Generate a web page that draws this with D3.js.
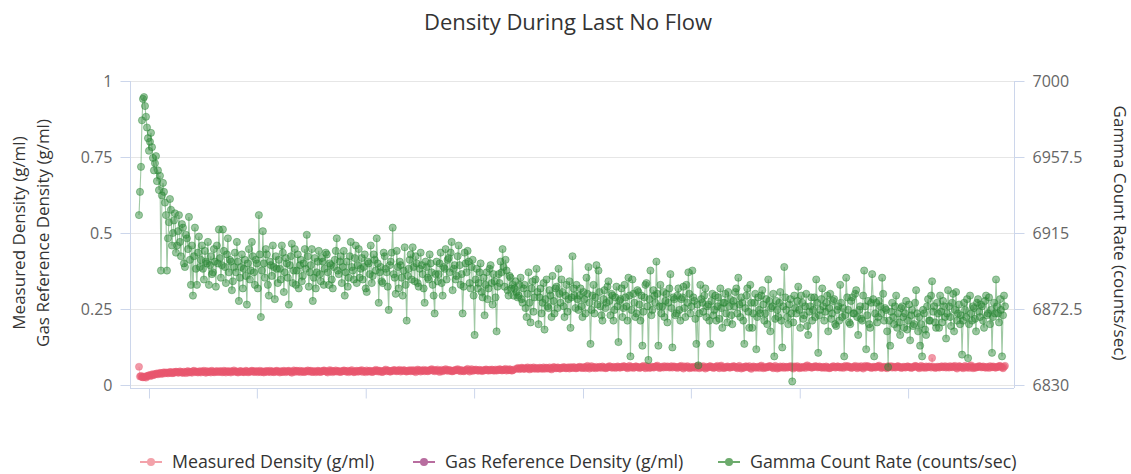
<!DOCTYPE html>
<html>
<head>
<meta charset="utf-8">
<script src="https://cdn.jsdelivr.net/npm/d3@7/dist/d3.min.js"></script>
<style>
  body { margin: 0; background: #fff; }
  svg text { font-family: "Open Sans", "Noto Sans", sans-serif; }
</style>
</head>
<body>
<svg id="chart" width="1131" height="474"></svg>
<script>
/*******************
 * DATA
 *******************/

// gamma count rate (counts/sec), one reading per sample
var gammaRate = [
  6925,6938,6952,6978,6990,6991,6986,6980,6974,6968,6961,6966,6971,6963,6957,6950,6954,6958,6944,6950,
  6939,6947,6894,6936,6943,6938,6932,6925,6894,6912,6921,6934,6928,6908,6915,6922,6926,6904,6908,6916,
  6925,6910,6902,6920,6918,6898,6896,6914,6912,6906,6924,6900,6886,6908,6880,6902,6918,6895,6886,6904,
  6913,6896,6900,6908,6895,6889,6905,6899,6898,6910,6886,6897,6902,6892,6893,6906,6899,6885,6908,6898,
  6917,6901,6890,6897,6917,6905,6896,6887,6903,6912,6893,6900,6899,6883,6888,6896,6904,6893,6910,6899,
  6877,6890,6896,6903,6884,6895,6900,6891,6875,6898,6906,6889,6894,6910,6902,6893,6886,6900,6898,6884,
  6925,6903,6868,6894,6916,6898,6890,6906,6903,6886,6880,6899,6897,6891,6908,6896,6878,6902,6895,6887,
  6900,6895,6889,6908,6904,6882,6893,6901,6898,6890,6875,6897,6902,6909,6887,6894,6906,6886,6894,6903,
  6884,6897,6900,6888,6891,6898,6906,6895,6914,6902,6885,6893,6897,6906,6877,6890,6901,6884,6893,6899,
  6905,6892,6888,6901,6899,6886,6895,6904,6903,6893,6886,6898,6897,6889,6884,6896,6900,6905,6912,6894,
  6892,6899,6902,6887,6896,6905,6880,6893,6899,6885,6890,6902,6910,6896,6894,6889,6901,6908,6887,6897,
  6906,6890,6895,6901,6889,6896,6903,6884,6882,6899,6898,6892,6908,6887,6891,6903,6900,6894,6912,6898,
  6876,6893,6896,6888,6887,6904,6902,6895,6893,6885,6872,6897,6899,6904,6918,6892,6890,6881,6905,6896,
  6884,6899,6897,6890,6880,6894,6907,6886,6866,6891,6895,6900,6903,6889,6907,6896,6888,6902,6898,6887,
  6885,6895,6904,6897,6892,6884,6876,6899,6896,6890,6889,6903,6898,6893,6886,6880,6870,6892,6899,6888,
  6892,6898,6904,6887,6880,6896,6895,6906,6889,6900,6901,6893,6904,6910,6883,6895,6897,6889,6891,6902,
  6908,6897,6886,6892,6870,6885,6904,6898,6893,6905,6899,6887,6884,6896,6900,6880,6858,6889,6895,6884,
  6887,6893,6898,6882,6879,6890,6869,6886,6893,6878,6884,6895,6897,6887,6875,6892,6888,6879,6860,6885,
  6892,6887,6899,6893,6906,6896,6885,6900,6894,6883,6880,6891,6890,6884,6886,6880,6884,6888,6882,6879,
  6880,6886,6890,6878,6876,6884,6886,6873,6868,6881,6893,6876,6865,6884,6888,6871,6879,6889,6895,6882,
  6864,6879,6884,6870,6876,6887,6861,6878,6889,6874,6873,6883,6880,6868,6891,6877,6870,6884,6885,6873,
  6895,6881,6876,6889,6882,6874,6868,6880,6886,6871,6878,6888,6862,6879,6902,6884,6880,6873,6886,6878,
  6872,6880,6884,6874,6868,6882,6878,6870,6890,6881,6896,6876,6853,6872,6880,6886,6870,6879,6897,6875,
  6894,6882,6874,6869,6866,6878,6883,6873,6876,6885,6888,6877,6869,6881,6880,6866,6872,6879,6885,6874,
  6854,6877,6878,6884,6868,6873,6886,6879,6874,6866,6890,6880,6846,6872,6889,6881,6876,6868,6870,6883,
  6882,6875,6866,6880,6852,6871,6879,6886,6887,6874,6844,6878,6894,6869,6872,6883,6880,6876,6899,6881,
  6852,6874,6886,6870,6874,6882,6868,6877,6881,6865,6876,6884,6892,6873,6851,6879,6878,6869,6870,6880,
  6884,6872,6866,6878,6879,6885,6873,6868,6886,6876,6893,6881,6870,6874,6894,6879,6877,6867,6853,6875,
  6841,6870,6886,6878,6876,6871,6880,6884,6868,6874,6875,6866,6853,6877,6881,6869,6872,6880,6866,6874,
  6879,6867,6884,6873,6862,6876,6876,6881,6870,6865,6882,6874,6878,6869,6864,6877,6874,6882,6884,6870,
  6890,6875,6868,6879,6876,6866,6853,6873,6880,6884,6871,6862,6886,6876,6862,6870,6876,6881,6850,6868,
  6879,6872,6870,6880,6883,6875,6866,6870,6878,6864,6889,6877,6860,6873,6874,6881,6846,6867,6877,6872,
  6868,6876,6882,6866,6851,6874,6896,6879,6872,6868,6864,6875,6878,6870,6832,6865,6880,6873,6870,6877,
  6885,6872,6862,6880,6876,6867,6869,6874,6881,6863,6858,6871,6874,6879,6866,6872,6879,6868,6889,6876,
  6848,6869,6872,6878,6884,6874,6866,6871,6876,6880,6860,6873,6881,6867,6870,6877,6878,6864,6863,6872,
  6874,6866,6886,6876,6868,6873,6846,6869,6890,6879,6872,6865,6864,6877,6879,6870,6870,6881,6883,6868,
  6858,6872,6874,6867,6866,6880,6894,6874,6850,6869,6877,6864,6862,6876,6892,6878,6846,6870,6876,6865,
  6868,6877,6874,6870,6890,6881,6866,6873,6872,6860,6840,6866,6852,6871,6876,6868,6864,6874,6880,6862,
  6870,6865,6858,6873,6874,6868,6862,6870,6877,6861,6866,6875,6855,6869,6872,6863,6864,6876,6883,6870,
  6860,6868,6852,6864,6846,6872,6870,6861,6858,6874,6878,6866,6866,6880,6888,6871,6874,6865,6862,6876,
  6870,6862,6880,6871,6865,6877,6874,6868,6856,6870,6883,6874,6868,6863,6876,6881,6860,6872,6882,6866,
  6870,6875,6864,6869,6847,6866,6876,6872,6868,6878,6845,6864,6880,6870,6866,6874,6873,6867,6860,6876,
  6878,6871,6868,6875,6874,6866,6862,6877,6880,6869,6870,6879,6864,6872,6848,6868,6876,6870,6889,6874,
  6870,6865,6878,6872,6846,6869,6880,6874
];

// measured density (g/ml), same samples; null = missing reading
var measuredDensity = [
  .060,.028,.030,.026,.025,.028,.027,.024,.029,.031,.032,.029,.034,.031,.036,.033,.035,.037,.038,.035,.037,.040,.039,.036,.040,.042,.038,.041,.041,.038,.040,.043,.042,.039,.039,.043,.041,.044,.043,.040,
  .041,.045,.043,.040,.040,.044,.042,.039,.044,.046,.041,.043,.043,.040,.045,.047,.042,.044,.044,.041,.043,.046,.041,.044,.044,.047,.042,.040,.046,.043,.043,.045,.041,.047,.044,.042,.042,.045,.046,.043,
  .043,.046,.045,.042,.042,.047,.044,.041,.046,.044,.043,.046,.041,.044,.045,.048,.043,.045,.044,.041,.042,.046,.046,.043,.044,.042,.043,.047,.045,.042,.042,.045,.044,.047,.046,.043,.043,.046,.045,.042,
  .044,.047,.042,.044,.045,.041,.043,.046,.046,.043,.044,.047,.042,.045,.045,.042,.043,.046,.047,.044,.044,.041,.046,.043,.043,.047,.045,.042,.044,.046,.047,.044,.043,.040,.045,.048,.043,.046,.047,.044,
  .044,.047,.042,.045,.046,.043,.043,.046,.045,.048,.044,.046,.047,.043,.043,.046,.045,.042,.044,.047,.046,.043,.043,.046,.045,.048,.047,.044,.044,.041,.046,.049,.044,.047,.042,.045,.045,.048,.044,.046,
  .046,.043,.043,.046,.045,.048,.047,.044,.044,.047,.042,.045,.046,.049,.045,.042,.043,.046,.047,.044,.044,.047,.046,.049,.043,.046,.045,.042,.048,.045,.044,.047,.046,.043,.043,.046,.047,.050,.045,.048,
  .044,.047,.046,.043,.043,.046,.048,.051,.045,.048,.047,.044,.044,.047,.046,.049,.049,.046,.045,.048,.047,.050,.044,.047,.046,.049,.048,.045,.044,.047,.046,.049,.045,.048,.046,.049,.045,.042,.048,.051,
  .046,.049,.044,.047,.047,.050,.045,.048,.048,.045,.046,.049,.049,.052,.047,.050,.045,.048,.048,.051,.046,.043,.047,.050,.045,.048,.049,.052,.047,.050,.046,.049,.048,.045,.045,.048,.047,.050,.049,.052,
  .047,.050,.045,.048,.048,.045,.046,.049,.050,.053,.047,.044,.049,.052,.046,.049,.048,.051,.050,.047,.047,.050,.049,.046,.046,.049,.048,.051,.051,.048,.047,.050,.048,.051,.050,.047,.048,.051,.047,.050,
  .049,.052,.051,.048,.048,.051,.050,.053,.047,.050,.049,.052,.050,.047,.048,.051,null,null,.053,.056,.055,.052,.054,.057,.056,.053,.053,.056,.055,.058,.054,.051,.057,.054,.055,.058,.053,.056,.056,.053,
  .054,.057,.056,.053,.055,.058,.053,.056,.057,.054,.055,.058,.054,.051,.056,.059,.058,.055,.055,.058,.057,.054,.054,.057,.056,.059,.058,.055,.055,.058,.057,.054,.059,.056,.056,.059,.058,.055,.055,.058,
  .057,.060,.059,.056,.056,.059,.058,.055,.060,.063,.057,.054,.059,.062,.056,.059,.058,.055,.060,.057,.057,.060,.059,.056,.061,.058,.058,.055,.056,.059,.059,.062,.060,.057,.057,.060,.059,.056,.058,.061,
  .060,.057,.057,.060,.059,.062,.061,.058,.058,.055,.060,.063,.057,.060,.059,.056,.058,.061,.061,.058,.059,.056,.057,.060,.060,.063,.058,.055,.062,.059,.059,.056,.057,.060,.060,.057,.058,.061,.061,.064,
  .059,.056,.057,.060,.060,.057,.062,.059,.058,.061,.060,.057,.059,.062,.057,.060,.061,.058,.059,.056,.058,.061,.060,.063,.057,.054,.061,.058,.059,.062,.058,.055,.060,.057,.057,.060,.059,.056,.060,.063,
  .058,.055,.061,.058,.059,.062,.057,.054,.060,.057,.058,.061,.062,.059,.059,.056,.057,.060,.060,.063,.058,.055,.061,.064,.059,.056,.056,.059,.058,.061,.060,.057,.057,.060,.059,.062,.061,.058,.058,.055,
  .060,.063,.057,.054,.059,.056,.058,.061,.061,.058,.059,.062,.056,.053,.058,.061,.060,.057,.057,.060,.059,.056,.061,.064,.058,.055,.060,.057,.057,.060,.059,.062,.062,.059,.058,.055,.060,.063,.057,.054,
  .059,.056,.061,.058,.058,.061,.056,.059,.060,.057,.058,.061,.059,.062,.057,.054,.061,.058,.059,.062,.058,.055,.060,.057,.057,.060,.059,.056,.062,.065,.058,.061,.060,.057,.057,.060,.059,.062,.061,.058,
  .058,.061,.060,.057,.057,.060,.059,.056,.061,.058,.058,.055,.056,.059,.059,.062,.060,.057,.058,.061,.061,.058,.057,.060,.059,.056,.060,.063,.058,.061,.062,.059,.059,.056,.057,.060,.060,.063,.058,.055,
  .061,.058,.059,.062,.057,.054,.060,.063,.058,.061,.062,.059,.059,.056,.057,.060,.060,.057,.058,.061,.061,.064,.059,.056,.057,.060,.060,.057,.058,.055,.062,.059,.059,.062,.057,.060,.060,.057,.058,.061,
  .062,.059,.059,.056,.057,.060,.060,.057,.058,.061,.061,.058,.059,.056,.057,.060,.060,.063,.062,.059,.058,.055,.060,.063,.057,.060,.059,.056,.061,.058,.058,.061,.060,.057,.089,.060,.059,.056,.057,.060,
  .060,.057,.058,.061,.061,.058,.059,.062,.057,.060,.060,.057,.062,.059,.058,.061,.060,.063,.057,.054,.059,.062,.061,.058,.058,.055,.060,.063,.057,.060,.059,.056,.062,.065,.058,.055,.060,.057,.057,.060,
  .059,.062,.061,.058,.058,.061,.060,.057,.057,.060,.059,.056,.062,.059,.058,.061,.060,.057,.057,.060,.059,.062,.063,.060,.058,.055,.060,.063
];

// gas reference density (g/ml): no readings in this window
var gasRefDensity = [];

var leftTicks = [0, 0.25, 0.5, 0.75, 1];
var rightTicks = [6830, 6872.5, 6915, 6957.5, 7000];
// sample index of each x-axis tick (labels are hidden in the source)
var xTickIdx = [10, 118, 227, 335.5, 444.5, 552.5, 661.5, 770];

var seriesNames = ['Measured Density (g/ml)', 'Gas Reference Density (g/ml)', 'Gamma Count Rate (counts/sec)'];

/*******************
 * LAYOUT
 *******************/

var PLOT = { left: 130, right: 1014, top: 81, bottom: 385 };
var COLOR = {
  measured: '#e8566e',
  gas: '#b0609a',
  gamma: '#2c8836',
  axis: '#ccd6eb',
  grid: '#e6e6e6'
};

var svg = d3.select('#chart');

var x = d3.scaleLinear()
  .domain([-9, gammaRate.length + 8])
  .range([PLOT.left, PLOT.right]);
var yLeft = d3.scaleLinear().domain([0, 1]).range([PLOT.bottom, PLOT.top]);
var yRight = d3.scaleLinear().domain([6830, 7000]).range([PLOT.bottom, PLOT.top]);

// title
svg.append('text')
  .attr('x', 568).attr('y', 30)
  .attr('text-anchor', 'middle')
  .attr('fill', '#333')
  .style('font-size', '22px')
  .text('Density During Last No Flow');

// grid
svg.append('g')
  .selectAll('line')
  .data(leftTicks)
  .join('line')
  .attr('x1', PLOT.left).attr('x2', PLOT.right)
  .attr('y1', d => Math.round(yLeft(d)) + 0.5)
  .attr('y2', d => Math.round(yLeft(d)) + 0.5)
  .attr('stroke', COLOR.grid);

// left axis
var gLeft = svg.append('g')
  .attr('transform', 'translate(' + (PLOT.left + 0.5) + ',0)')
  .call(d3.axisLeft(yLeft).tickValues(leftTicks).tickSize(10).tickPadding(8).tickFormat(d3.format('')));
gLeft.select('.domain').attr('stroke', COLOR.axis).attr('d', 'M0,' + PLOT.top + 'V' + (PLOT.bottom + 3));
gLeft.selectAll('.tick line').attr('stroke', COLOR.axis);
gLeft.selectAll('.tick text').attr('fill', '#666').style('font-size', '16px');

// right axis
var gRight = svg.append('g')
  .attr('transform', 'translate(' + (PLOT.right + 0.5) + ',0)')
  .call(d3.axisRight(yRight).tickValues(rightTicks).tickSize(10).tickPadding(8).tickFormat(d3.format('')));
gRight.select('.domain').attr('stroke', COLOR.axis).attr('d', 'M0,' + PLOT.top + 'V' + (PLOT.bottom + 3));
gRight.selectAll('.tick line').attr('stroke', COLOR.axis);
gRight.selectAll('.tick text').attr('fill', '#666').style('font-size', '16px');

// bottom axis (no labels)
var gBottom = svg.append('g')
  .attr('transform', 'translate(0,' + (PLOT.bottom + 3.5) + ')')
  .call(d3.axisBottom(x).tickValues(xTickIdx).tickSize(10).tickFormat(''));
gBottom.select('.domain').attr('stroke', COLOR.axis).attr('d', 'M' + PLOT.left + ',0H' + PLOT.right);
gBottom.selectAll('.tick line').attr('stroke', COLOR.axis);

// axis titles
var leftTitle = svg.append('text')
  .attr('transform', 'translate(30,' + ((PLOT.top + PLOT.bottom) / 2) + ') rotate(-90)')
  .attr('text-anchor', 'middle')
  .attr('fill', '#333')
  .style('font-size', '17px');
leftTitle.append('tspan').attr('x', 0).attr('dy', '-0.3em').text(seriesNames[0]);
leftTitle.append('tspan').attr('x', 0).attr('dy', '1.4em').text(seriesNames[1]);

svg.append('text')
  .attr('transform', 'translate(1114,' + ((PLOT.top + PLOT.bottom) / 2) + ') rotate(90)')
  .attr('text-anchor', 'middle')
  .attr('fill', '#333')
  .style('font-size', '17px')
  .text(seriesNames[2]);

/*******************
 * SERIES
 *******************/

var plot = svg.append('g');

function drawSeries (values, yScale, color, opts) {
  var pts = values.map(function (v, i) { return { i: i, v: v }; });
  var line = d3.line()
    .defined(d => d.v != null)
    .x(d => x(d.i))
    .y(d => yScale(d.v));
  plot.append('path')
    .datum(pts)
    .attr('d', line)
    .attr('fill', 'none')
    .attr('stroke', color)
    .attr('stroke-opacity', opts.lineOpacity)
    .attr('stroke-width', opts.lineWidth);
  plot.append('g')
    .selectAll('circle')
    .data(pts.filter(d => d.v != null))
    .join('circle')
    .attr('cx', d => x(d.i))
    .attr('cy', d => yScale(d.v))
    .attr('r', opts.r)
    .attr('fill', color)
    .attr('fill-opacity', opts.fillOpacity)
    .attr('stroke', color)
    .attr('stroke-opacity', opts.strokeOpacity)
    .attr('stroke-width', 0.8);
}

drawSeries(measuredDensity, yLeft, COLOR.measured, { r: 3.6, fillOpacity: 0.6, strokeOpacity: 0.4, lineOpacity: 0.3, lineWidth: 1 });
drawSeries(gasRefDensity, yLeft, COLOR.gas, { r: 3.6, fillOpacity: 0.6, strokeOpacity: 0.4, lineOpacity: 0.3, lineWidth: 1 });
drawSeries(gammaRate, yRight, COLOR.gamma, { r: 3.6, fillOpacity: 0.48, strokeOpacity: 0.55, lineOpacity: 0.45, lineWidth: 1.1 });

/*******************
 * LEGEND
 *******************/

var legendItems = [
  { name: seriesNames[0], color: '#f3a2aa', x: 140 },
  { name: seriesNames[1], color: '#b86d9f', x: 413 },
  { name: seriesNames[2], color: '#6dab6d', x: 718 }
];

var legend = svg.append('g').attr('transform', 'translate(0,462)');
var item = legend.selectAll('g').data(legendItems).join('g')
  .attr('transform', d => 'translate(' + d.x + ',0)');
item.append('line')
  .attr('x1', 0).attr('x2', 22)
  .attr('stroke', d => d.color).attr('stroke-width', 2);
item.append('circle')
  .attr('cx', 11).attr('r', 4)
  .attr('fill', d => d.color);
item.append('text')
  .attr('x', 32).attr('dy', '0.35em')
  .attr('fill', '#333')
  .style('font-size', '17.8px')
  .text(d => d.name);
</script>
</body>
</html>
